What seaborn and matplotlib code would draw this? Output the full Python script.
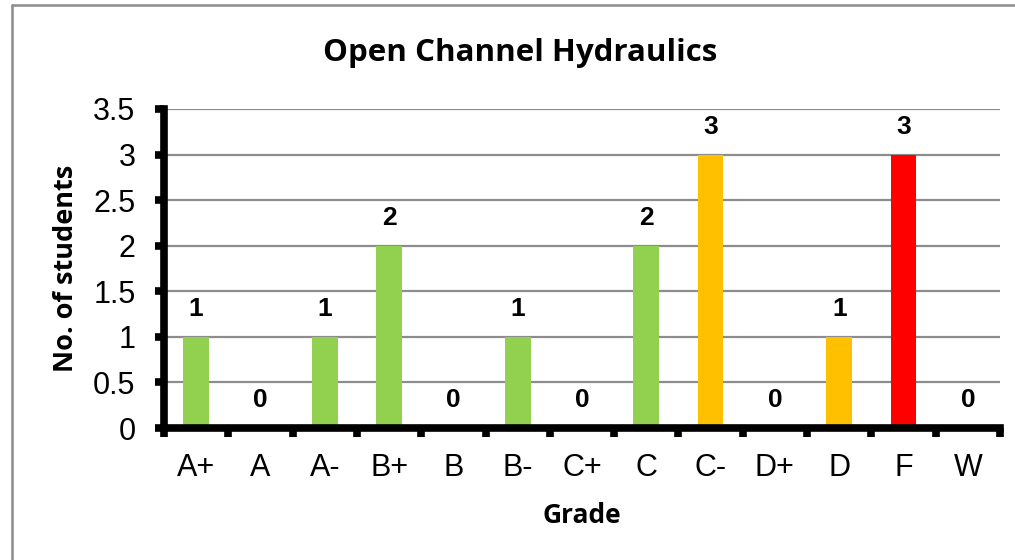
import matplotlib
matplotlib.use("Agg")
import matplotlib.pyplot as plt
import seaborn as sns
import pandas as pd
from matplotlib.lines import Line2D
from matplotlib.ticker import FixedLocator

grades = ["A+", "A", "A-", "B+", "B", "B-", "C+", "C", "C-", "D+", "D", "F", "W"]
students = [1, 0, 1, 2, 0, 1, 0, 2, 3, 0, 1, 3, 0]
bar_colors = ["#92D050", "#92D050", "#92D050", "#92D050", "#92D050", "#92D050",
              "#92D050", "#92D050", "#FFC000", "#FFC000", "#FFC000", "#FF0000", "#FF0000"]
yticks = [0, 0.5, 1, 1.5, 2, 2.5, 3, 3.5]
ytick_labels = ["0", "0.5", "1", "1.5", "2", "2.5", "3", "3.5"]
title = "Open Channel Hydraulics"
xlabel = "Grade"
ylabel = "No. of students"

sns.set_theme(style="white")
plt.rcParams['font.family'] = ['Liberation Sans', 'DejaVu Sans']
plt.rcParams['text.color'] = 'black'
plt.rcParams['axes.labelcolor'] = 'black'
plt.rcParams['xtick.color'] = 'black'
plt.rcParams['ytick.color'] = 'black'

df = pd.DataFrame({"grade": grades, "n": students})

fig = plt.figure(figsize=(10.15, 5.6), dpi=100)
ax = fig.add_axes([164/1015, 1-428/560, (1000-164)/1015, (428-109)/560])

sns.barplot(data=df, x="grade", y="n", hue="grade", palette=dict(zip(grades, bar_colors)),
            order=grades, hue_order=grades, width=0.4, legend=False, ax=ax,
            saturation=1, linewidth=0)

ax.set_xlim(-0.5, len(grades) - 0.5)
ax.set_ylim(0, 3.5)
ax.set_yticks(yticks)
ax.set_yticklabels(ytick_labels)
ax.grid(axis="y", color="#8c8c8c", linewidth=1.6)
ax.set_axisbelow(True)

for s in ["top", "right"]:
    ax.spines[s].set_visible(False)
for s in ["left", "bottom"]:
    ax.spines[s].set_color("black")
    ax.spines[s].set_linewidth(5.5)
    ax.spines[s].set_zorder(5)
    ax.spines[s].set_capstyle("projecting")

ax.set_xticks(range(len(grades)))
ax.set_xticklabels(grades)
ax.tick_params(axis="x", which="major", length=0, pad=18, labelsize=22)
ax.xaxis.set_minor_locator(FixedLocator([i + 0.5 for i in range(-1, len(grades))]))
ax.tick_params(axis="x", which="minor", bottom=True, length=6.5, width=5.5,
               color="black", direction="out")
ax.tick_params(axis="y", which="major", left=True, length=6.5, width=5.5, color="black",
               direction="out", labelsize=22, pad=14)

lab_font = ['Open Sans', 'DejaVu Sans']
ax.set_xlabel(xlabel, fontsize=19, fontweight="bold", labelpad=14, family=lab_font)
ax.set_ylabel(ylabel, fontsize=19.5, fontweight="bold", labelpad=10, family=lab_font)

for i, v in enumerate(students):
    ax.annotate(str(v), (i, v), xytext=(0, 20), textcoords="offset points",
                ha="center", va="center", fontsize=19, fontweight="bold", color="black")

fig.text(520/1015, 1-53/560, title, ha="center", va="center", fontsize=22.5,
         fontweight="bold", family=lab_font)

fig.add_artist(Line2D([12/1015, 12/1015], [0, 1-5/560], transform=fig.transFigure,
                      color="#8c8c8c", linewidth=1.8))
fig.add_artist(Line2D([12/1015, 1], [1-5/560, 1-5/560], transform=fig.transFigure,
                      color="#8c8c8c", linewidth=1.8))

fig.savefig("out.png", dpi=100)
